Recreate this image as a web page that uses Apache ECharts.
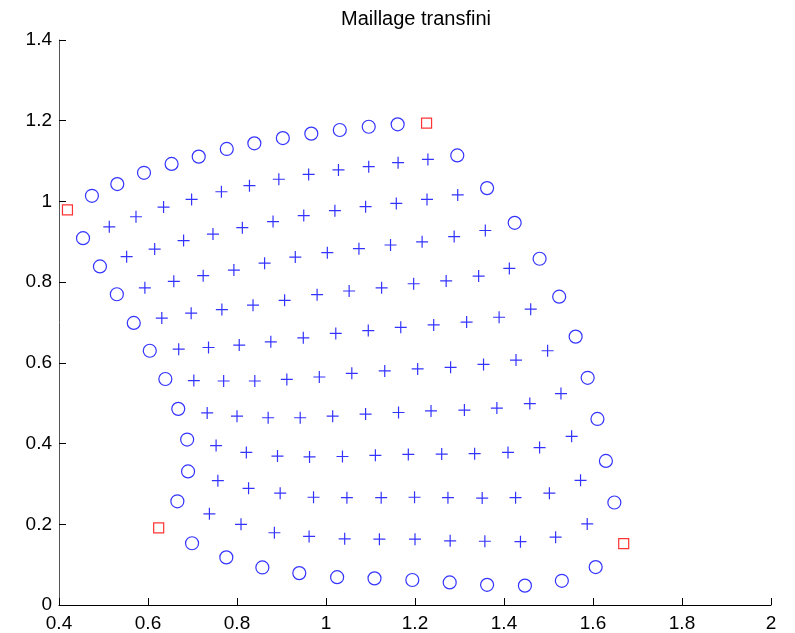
<!DOCTYPE html>
<html>
<head>
<meta charset="utf-8">
<script src="https://cdn.jsdelivr.net/npm/echarts@6/dist/echarts.min.js"></script>
<style>html,body{margin:0;padding:0;background:#fff}#c{width:795px;height:633px}</style>
</head>
<body>
<div id="c"></div>
<script>
// Axis tick labels
const xTicks = [0.4, 0.6, 0.8, 1, 1.2, 1.4, 1.6, 1.8, 2];
const yTicks = [0, 0.2, 0.4, 0.6, 0.8, 1, 1.2, 1.4];

// Corner nodes (red squares)
const corners = [[0.419,0.979],[1.226,1.194],[1.669,0.152],[0.624,0.191]];

// Boundary nodes (circles)
const topEdge = [[0.474,1.014],[0.531,1.043],[0.591,1.071],[0.653,1.093],[0.714,1.111],[0.777,1.130],[0.839,1.144],[0.903,1.157],[0.967,1.168],[1.031,1.177],[1.096,1.185],[1.161,1.191]];
const rightEdge = [[1.295,1.114],[1.362,1.033],[1.424,0.947],[1.480,0.858],[1.524,0.764],[1.561,0.665],[1.588,0.563],[1.610,0.461],[1.629,0.357],[1.648,0.254]];
const bottomEdge = [[0.699,0.153],[0.776,0.118],[0.857,0.093],[0.940,0.079],[1.025,0.069],[1.109,0.066],[1.194,0.062],[1.278,0.056],[1.362,0.050],[1.447,0.048],[1.530,0.060],[1.606,0.094]];
const leftEdge = [[0.454,0.909],[0.492,0.839],[0.530,0.770],[0.568,0.699],[0.604,0.630],[0.639,0.560],[0.668,0.486],[0.688,0.410],[0.690,0.331],[0.666,0.257]];

// Interior nodes (plus signs), row by row from top
const row1 = [[0.513,0.937],[0.573,0.962],[0.635,0.986],[0.698,1.005],[0.765,1.024],[0.828,1.039],[0.894,1.055],[0.961,1.067],[1.028,1.078],[1.096,1.086],[1.162,1.096],[1.229,1.104]];
const row2 = [[0.552,0.863],[0.615,0.882],[0.680,0.903],[0.746,0.919],[0.812,0.935],[0.881,0.950],[0.950,0.965],[1.020,0.977],[1.089,0.987],[1.158,0.995],[1.227,1.005],[1.296,1.016]];
const row3 = [[0.593,0.786],[0.658,0.802],[0.724,0.816],[0.793,0.830],[0.862,0.847],[0.931,0.862],[1.003,0.873],[1.074,0.883],[1.145,0.892],[1.216,0.900],[1.288,0.913],[1.358,0.928]];
const row4 = [[0.631,0.711],[0.697,0.723],[0.766,0.732],[0.836,0.743],[0.907,0.755],[0.980,0.769],[1.052,0.778],[1.125,0.786],[1.197,0.796],[1.270,0.803],[1.343,0.815],[1.412,0.834]];
const row5 = [[0.669,0.634],[0.736,0.638],[0.805,0.644],[0.876,0.652],[0.949,0.662],[1.022,0.673],[1.095,0.680],[1.168,0.688],[1.242,0.694],[1.316,0.701],[1.389,0.713],[1.460,0.733]];
const row6 = [[0.703,0.556],[0.770,0.555],[0.840,0.555],[0.912,0.559],[0.985,0.565],[1.058,0.574],[1.132,0.580],[1.206,0.585],[1.280,0.589],[1.354,0.596],[1.427,0.607],[1.498,0.630]];
const row7 = [[0.733,0.476],[0.800,0.468],[0.870,0.464],[0.942,0.464],[1.015,0.468],[1.089,0.473],[1.163,0.477],[1.236,0.481],[1.311,0.483],[1.384,0.488],[1.458,0.499],[1.528,0.524]];
const row8 = [[0.753,0.395],[0.821,0.378],[0.891,0.369],[0.963,0.367],[1.037,0.368],[1.111,0.371],[1.185,0.373],[1.260,0.374],[1.334,0.375],[1.409,0.378],[1.480,0.390],[1.552,0.418]];
const row9 = [[0.757,0.308],[0.826,0.289],[0.897,0.277],[0.972,0.267],[1.047,0.266],[1.124,0.266],[1.199,0.267],[1.274,0.266],[1.351,0.265],[1.426,0.266],[1.502,0.277],[1.572,0.309]];
const row10 = [[0.738,0.226],[0.809,0.200],[0.884,0.179],[0.962,0.170],[1.042,0.164],[1.120,0.163],[1.200,0.163],[1.279,0.159],[1.357,0.158],[1.437,0.157],[1.516,0.168],[1.587,0.201]];

const boundary = [].concat(topEdge, rightEdge, bottomEdge, leftEdge);
const interior = [].concat(row1,row2,row3,row4,row5,row6,row7,row8,row9,row10);

const chart = echarts.init(document.getElementById('c'), null, {renderer:'canvas'});
const font = 'Liberation Sans, Helvetica, Arial, sans-serif';
function axisCfg(ticks, margin, lineColor) {
  return {
    type: 'value',
    min: ticks[0], max: ticks[ticks.length-1], interval: 0.2,
    splitLine: {show:false},
    axisLine: {show:true, lineStyle:{color:lineColor, width:1}},
    axisTick: {show:true, inside:true, length:7, lineStyle:{color:'#000'}},
    axisLabel: {color:'#000', fontSize:19, fontFamily:font, margin:margin}
  };
}
chart.setOption({
  animation: false,
  backgroundColor: '#fff',
  title: {
    text: 'Maillage transfini',
    left: 411, top: 4, textAlign: 'center',
    textStyle: {fontWeight:'normal', fontSize:20, color:'#000', fontFamily:font}
  },
  grid: {left:59, right:24, top:40, bottom:28, containLabel:false},
  xAxis: axisCfg(xTicks, 9, '#000'),
  yAxis: axisCfg(yTicks, 7, '#555'),
  series: [
    {
      type:'scatter', data: interior, symbol:'path://M5,0L5,10M0,5L10,5', symbolSize:12,
      itemStyle:{color:'none', borderColor:'#0000ff', borderWidth:1.2}
    },
    {
      type:'scatter', data: boundary, symbol:'circle', symbolSize:13,
      itemStyle:{color:'none', borderColor:'#0000ff', borderWidth:1.2}
    },
    {
      type:'scatter', data: corners, symbol:'rect', symbolSize:10,
      itemStyle:{color:'none', borderColor:'#ff0000', borderWidth:1.2}
    }
  ]
});
</script>
</body>
</html>
